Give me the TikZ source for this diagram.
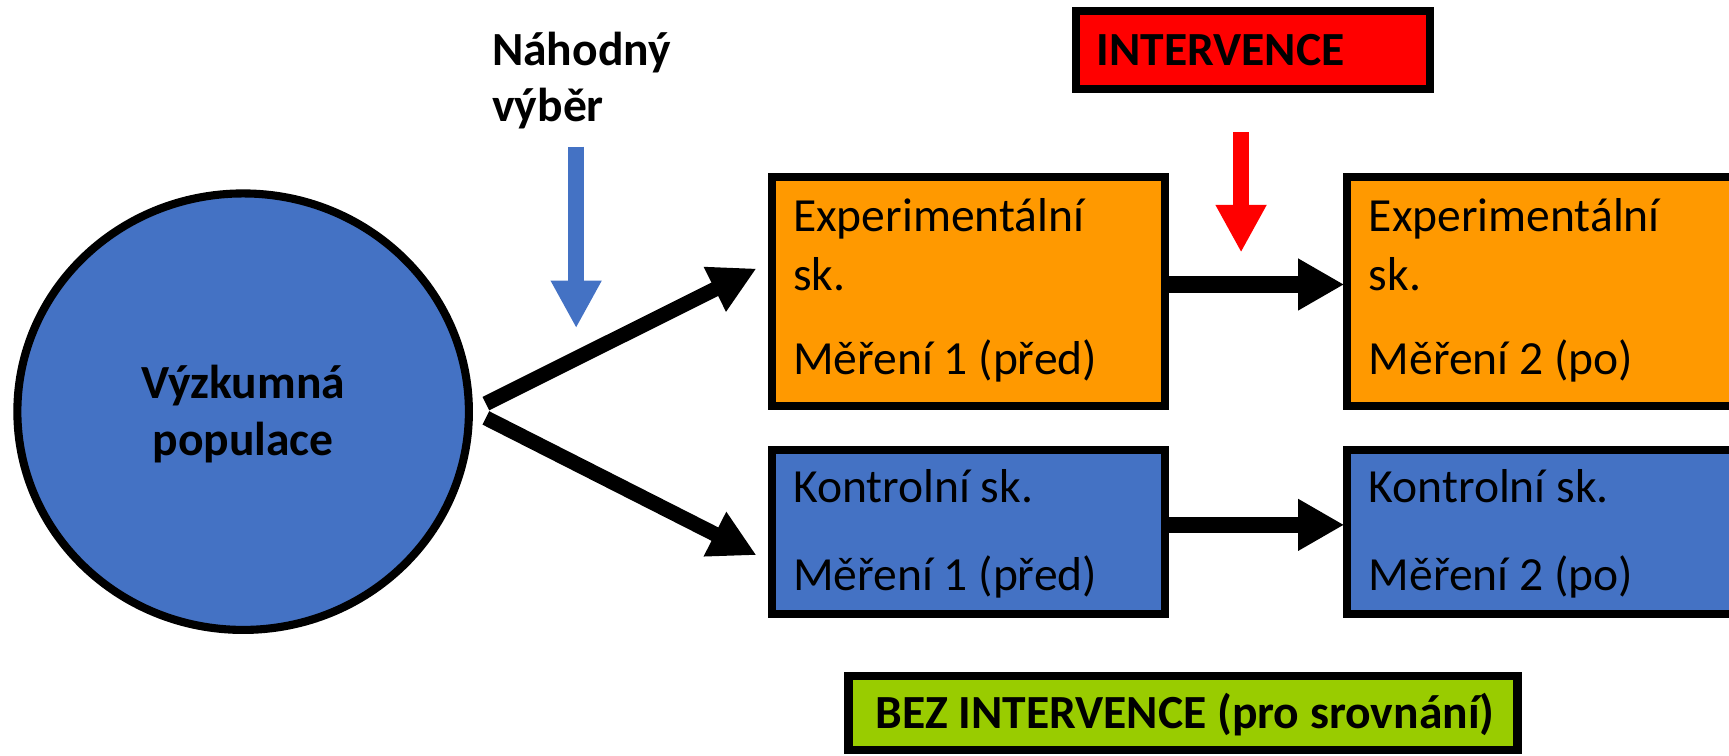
\documentclass[tikz,border=0pt]{standalone}
\usepackage{fontspec}
\setmainfont{Carlito}
\usetikzlibrary{shapes.geometric,arrows.meta}
\definecolor{popblue}{HTML}{4472C4}
\definecolor{exporange}{HTML}{FF9900}
\definecolor{intvred}{HTML}{FF0000}
\definecolor{cmpgreen}{HTML}{99CC00}
\begin{document}
\begin{tikzpicture}[x=0.022cm, y=-0.022cm,
    font=\fontsize{27}{32}\selectfont,
    population/.style ={ellipse, draw, line width=4.6pt, fill=popblue},
    group/.style ={rectangle, draw, line width=4.6pt, inner sep=0pt},
    boxtext/.style ={anchor=base west, inner sep=0pt},
    heading/.style ={inner sep=0pt, font=\fontsize{27}{32}\selectfont\bfseries},
    flow/.style ={-{Triangle[length=0.93cm, width=0.93cm]}, line width=8.5pt},
    pass/.style ={-{Triangle[length=0.92cm, width=0.97cm]}, line width=9.4pt},
    pointer/.style ={-{Triangle[length=0.95cm, width=0.95cm]}, line width=9pt}]
   \useasboundingbox (0,0) rectangle (1568,685);
   \clip (0,0) rectangle (1568,685);

   % population and groups
   \node[population, minimum width=9.01cm, minimum height=8.71cm] (pop) at (220.5,373.35) {};
   \node[group, fill=exporange, minimum width=7.83cm, minimum height=4.57cm] (expA) at (878.35,264.7) {};
   \node[group, fill=exporange, minimum width=7.83cm, minimum height=4.57cm] (expB) at (1399.65,264.7) {};
   \node[group, fill=popblue, minimum width=7.83cm, minimum height=3.28cm] (ctlA) at (878.35,482.35) {};
   \node[group, fill=popblue, minimum width=7.83cm, minimum height=3.28cm] (ctlB) at (1399.65,482.35) {};
   \node[group, fill=intvred, minimum width=7.07cm, minimum height=1.54cm] (intv) at (1136.5,45.35) {};
   \node[group, fill=cmpgreen, minimum width=13.35cm, minimum height=1.48cm] (noint) at (1072.85,646.7) {};

   % texts
   \node[heading, anchor=base] (popT1) at (220.5,361) {Výzkumná};
   \node[heading, anchor=base] (popT2) at (220.5,413) {populace};
   \node[heading, anchor=base west] (pickT1) at (446,59) {Náhodný};
   \node[heading, anchor=base west] (pickT2) at (446,110) {výběr};
   \node[heading, anchor=base west] (intvT) at (994,59) {INTERVENCE};
   \node[heading, anchor=base west] (nointT) at (793.5,660.5) {BEZ INTERVENCE (pro srovnání)};

   \node[boxtext] (expAT1) at (719,210) {Experimentální};
   \node[boxtext] (expAT2) at (719,263) {sk.};
   \node[boxtext] (expAT3) at (719,340) {Měření 1 (před)};
   \node[boxtext] (expBT1) at (1241,210) {Experimentální};
   \node[boxtext] (expBT2) at (1241,263) {sk.};
   \node[boxtext] (expBT3) at (1241,340) {Měření 2 (po)};
   \node[boxtext] (ctlAT1) at (719,456) {Kontrolní sk.};
   \node[boxtext] (ctlAT2) at (719,535.7) {Měření 1 (před)};
   \node[boxtext] (ctlBT1) at (1241,456) {Kontrolní sk.};
   \node[boxtext] (ctlBT2) at (1241,535.7) {Měření 2 (po)};

   % arrows
   \coordinate (pickTop) at (522.5,133);
   \coordinate (pickTip) at (522.5,297.6);
   \coordinate (intvTop) at (1125.5,120);
   \coordinate (intvTip) at (1125.5,229);

   \draw[pointer, popblue] (pickTop) -- (pickTip);
   \draw[pointer, intvred] (intvTop) -- (intvTip);
   \draw[flow] ([shift={(11.7,-7.35)}]pop.east) -- ([shift={(-10.7,-21.2)}]expA.west);
   \draw[flow] ([shift={(11.7,5.65)}]pop.east) -- ([shift={(-10.7,21.15)}]ctlA.west);
   \draw[pass] ([shift={(0,-6.7)}]expA.east) -- ([shift={(1,-6.7)}]expB.west);
   \draw[pass] ([shift={(0,-6.35)}]ctlA.east) -- ([shift={(1,-6.35)}]ctlB.west);
 \end{tikzpicture}
\end{document}
